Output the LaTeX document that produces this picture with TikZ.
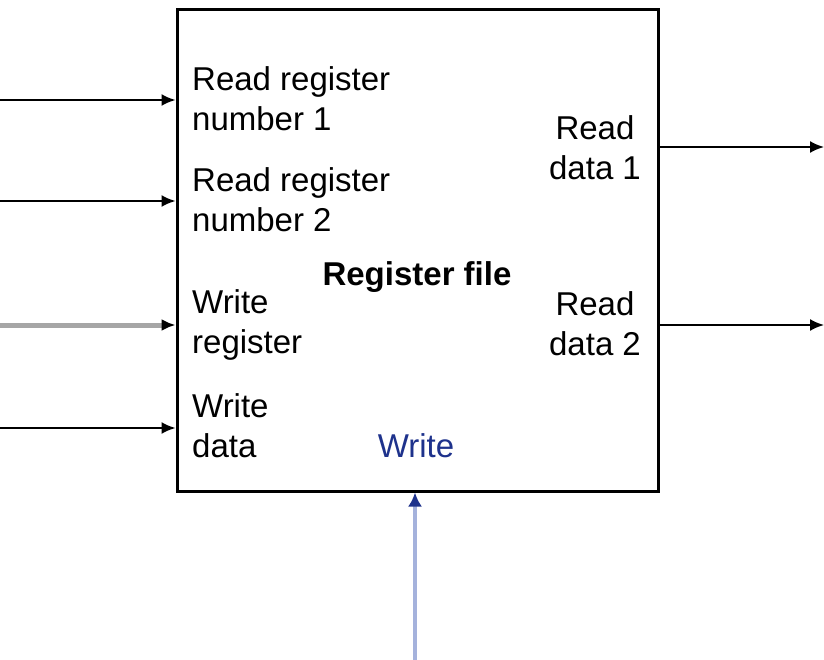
\documentclass[tikz,border=0pt]{standalone}
\usepackage{fontspec}
\setmainfont{Liberation Sans}
\usetikzlibrary{positioning, arrows.meta}
\definecolor{ctlblue}{RGB}{30,50,140}
\definecolor{ctlwire}{RGB}{165,178,220}

\begin{document}
\begin{tikzpicture}[
    x=1pt, y=-1pt,
    line/.style={draw, line width=2pt, -{Latex[length=14pt, width=12pt]}},
    lbl/.style={inner sep=0pt, font=\fontsize{33}{40}\selectfont},
  ]
    \useasboundingbox (0,0) rectangle (824,660);
    % レジスタファイル（正方形の箱）
    \node[draw, line width=3pt, minimum width=481pt, minimum height=481pt, inner sep=0pt] (rf) at (417.5,250.5) {};
    % 入力側のラベル
    \node[lbl, align=left, anchor=west] (rr1) at (192,99) {Read register\\number 1};
    \node[lbl, align=left, anchor=west] (rr2) at (192,200) {Read register\\number 2};
    \node[lbl, align=left, anchor=west] (wreg) at (192,325) {Write\\register};
    \node[lbl, align=left, anchor=west] (wdat) at (192,426) {Write\\data};
    % 出力側のラベル
    \node[lbl, align=center] (rd1) at (595,148) {Read\\data 1};
    \node[lbl, align=center] (rd2) at (595,324) {Read\\data 2};
    % 名前と制御信号
    \node[lbl, font=\fontsize{33}{40}\selectfont\bfseries] (name) at (417,277) {Register file};
    \node[lbl, text=ctlblue] (wctl) at (416,446) {Write};
    % 入力の矢印
    \coordinate (in1) at (0,100);
    \coordinate (in2) at (0,201);
    \coordinate (in3) at (0,325);
    \coordinate (in4) at (0,428);
    \draw[line] (in1) -- (in1 -| rf.west);
    \draw[line] (in2) -- (in2 -| rf.west);
    \draw[line, line width=5pt, gray!70, -{Latex[length=14pt, width=12pt, color=black]}] (in3) -- (in3 -| rf.west);
    \draw[line] (in4) -- (in4 -| rf.west);
    % 出力の矢印
    \coordinate (out1) at (824,147);
    \coordinate (out2) at (824,325);
    \draw[line] (out1 -| rf.east) -- (out1);
    \draw[line] (out2 -| rf.east) -- (out2);
    % 書き込み制御
    \coordinate (wsig) at (415,660);
    \draw[line, line width=4pt, ctlwire, -{Latex[length=14pt, width=14pt, color=ctlblue]}] (wsig) -- (wsig |- rf.south);
  \end{tikzpicture}
\end{document}
